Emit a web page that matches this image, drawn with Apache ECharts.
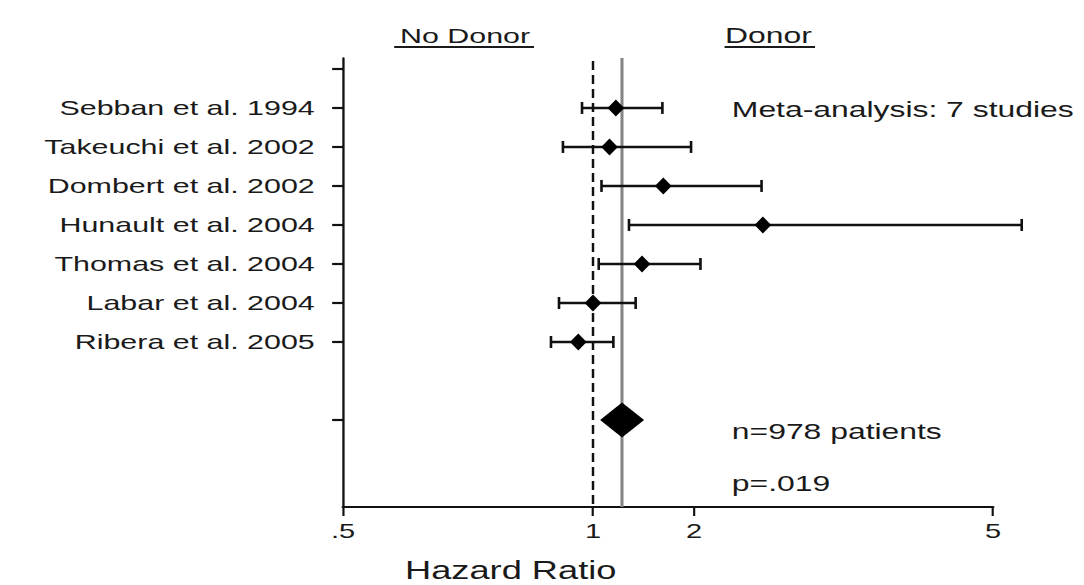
<!DOCTYPE html>
<html>
<head>
<meta charset="utf-8">
<script src="https://cdn.jsdelivr.net/npm/echarts@6/dist/echarts.min.js"></script>
<style>
html, body { margin: 0; padding: 0; background: #fff; overflow: hidden; }
#wrap { width: 1084px; height: 585px; overflow: hidden; }
#chart { width: 748px; height: 585px; transform: scaleX(1.449198); transform-origin: 0 0; }
</style>
</head>
<body>
<div id="wrap"><div id="chart"></div></div>
<script>
// ---------------- data ----------------
const studies = [
  'Sebban et al. 1994',
  'Takeuchi et al. 2002',
  'Dombert et al. 2002',
  'Hunault et al. 2004',
  'Thomas et al. 2004',
  'Labar et al. 2004',
  'Ribera et al. 2005'
];
const hazardRatio = [1.17, 1.12, 1.62, 2.47, 1.40, 1.00, 0.96];
const ciLower     = [0.97, 0.92, 1.06, 1.28, 1.04, 0.91, 0.89];
const ciUpper     = [1.61, 1.96, 2.46, 5.46, 2.04, 1.34, 1.15];
const pooledHR    = [1.22];
const pooledLower = [1.05];
const pooledUpper = [1.42];
const xTickValues = [0.5, 1, 2, 5];
const xTickLabels = ['.5', '1', '2', '5'];
const referenceHR = [1];

// ---------------- axis layout (tick placement along the axis, as drawn) ----------------
const tickPlace = [0, 0.3846, 0.54, 1];
function toAxis(v) {
  let i = 0;
  while (i < xTickValues.length - 2 && v > xTickValues[i + 1]) i++;
  const a = xTickValues[i], b = xTickValues[i + 1];
  const t = Math.log(v / a) / Math.log(b / a);
  return tickPlace[i] + t * (tickPlace[i + 1] - tickPlace[i]);
}
const studyRows = studies.map((s, i) => i + 1);
const pooledRow = studies.length + 2;
const Y_MIN = -0.28, Y_MAX = 11.23;

const FONT = '"Liberation Sans", Arial, Helvetica, sans-serif';
const TXT = '#1a1a1a';

const chart = echarts.init(document.getElementById('chart'), null, { renderer: 'svg' });

const option = {
  animation: false,
  backgroundColor: '#fff',
  grid: { left: 236.7, right: 62.8, top: 58, bottom: 78 },
  xAxis: {
    type: 'value', min: 0, max: 1, position: 'bottom',
    axisLine: { show: true, onZero: false, lineStyle: { color: '#111', width: 2.2 } },
    axisTick: { show: true, length: 9, lineStyle: { color: '#111', width: 1.5 }, customValues: tickPlace },
    axisLabel: {
      show: true, customValues: tickPlace, margin: 14,
      fontSize: 20, fontFamily: FONT, color: TXT,
      formatter: function (v) {
        let best = 0;
        tickPlace.forEach((p, i) => { if (Math.abs(p - v) < Math.abs(tickPlace[best] - v)) best = i; });
        return xTickLabels[best];
      }
    },
    splitLine: { show: false }
  },
  yAxis: {
    type: 'value', inverse: true, min: Y_MIN, max: Y_MAX, position: 'left',
    axisLine: { show: true, onZero: false, lineStyle: { color: '#111', width: 1.6 } },
    axisTick: { show: true, length: 7.5, lineStyle: { color: '#111', width: 2.2 }, customValues: [0].concat(studyRows, [pooledRow]) },
    axisLabel: {
      show: true, customValues: studyRows, margin: 19.5,
      fontSize: 21, fontFamily: FONT, color: TXT,
      formatter: function (v) { return studies[Math.round(v) - 1] || ''; }
    },
    splitLine: { show: false }
  },
  series: [
    {
      type: 'custom', name: 'reference', z: 1, silent: true,
      data: [[toAxis(referenceHR[0]), 0], [toAxis(pooledHR[0]), 1]],
      encode: { x: 0 },
      renderItem: function (params, api) {
        const x = api.value(0);
        const kind = api.value(1);
        const top = api.coord([x, Y_MIN]);
        const bot = api.coord([x, Y_MAX]);
        return {
          type: 'line',
          shape: { x1: top[0], y1: kind === 0 ? top[1] + 3 : top[1], x2: bot[0], y2: bot[1] },
          style: kind === 0
            ? { stroke: '#111', lineWidth: 1.7, lineDash: [9, 5] }
            : { stroke: '#858585', lineWidth: 2.1 }
        };
      }
    },
    {
      type: 'custom', name: 'CI', z: 3, silent: true, clip: false,
      data: studies.map((s, i) => [toAxis(ciLower[i]), toAxis(ciUpper[i]), studyRows[i]]),
      encode: { x: [0, 1], y: 2 },
      renderItem: function (params, api) {
        const y = api.value(2);
        const p1 = api.coord([api.value(0), y]);
        const p2 = api.coord([api.value(1), y]);
        const h = 6;
        const cap = { stroke: '#111', lineWidth: 1.8 };
        return {
          type: 'group',
          children: [
            { type: 'line', shape: { x1: p1[0], y1: p1[1], x2: p2[0], y2: p2[1] }, style: { stroke: '#111', lineWidth: 2.5 } },
            { type: 'line', shape: { x1: p1[0], y1: p1[1] - h, x2: p1[0], y2: p1[1] + h }, style: cap },
            { type: 'line', shape: { x1: p2[0], y1: p2[1] - h, x2: p2[0], y2: p2[1] + h }, style: cap }
          ]
        };
      }
    },
    {
      type: 'scatter', name: 'HR', z: 4, silent: true,
      symbol: 'diamond', symbolSize: [11.5, 17],
      itemStyle: { color: '#000', opacity: 1 },
      data: studies.map((s, i) => [toAxis(hazardRatio[i]), studyRows[i]])
    },
    {
      type: 'custom', name: 'Pooled', z: 4, silent: true, clip: false,
      data: pooledHR.map((v, i) => [toAxis(pooledLower[i]), toAxis(v), toAxis(pooledUpper[i]), pooledRow]),
      encode: { x: [0, 1, 2], y: 3 },
      renderItem: function (params, api) {
        const y = api.value(3);
        const l = api.coord([api.value(0), y]);
        const c = api.coord([api.value(1), y]);
        const r = api.coord([api.value(2), y]);
        const h = 17.5;
        return {
          type: 'polygon',
          shape: { points: [[l[0], l[1]], [c[0], c[1] - h], [r[0], r[1]], [c[0], c[1] + h]] },
          style: { fill: '#000' }
        };
      }
    }
  ],
  graphic: [
    { type: 'text', x: 276, y: 35.5, style: { text: 'No Donor', font: '21px ' + FONT, fill: TXT, verticalAlign: 'middle' } },
    { type: 'line', shape: { x1: 272, y1: 47, x2: 368.5, y2: 47 }, style: { stroke: TXT, lineWidth: 2.2 } },
    { type: 'text', x: 500.3, y: 35.5, style: { text: 'Donor', font: '22px ' + FONT, fill: TXT, verticalAlign: 'middle' } },
    { type: 'line', shape: { x1: 500, y1: 47, x2: 562.4, y2: 47 }, style: { stroke: TXT, lineWidth: 2.2 } },
    { type: 'text', x: 505, y: 109, style: { text: 'Meta-analysis: 7 studies', font: '22px ' + FONT, fill: TXT, verticalAlign: 'middle' } },
    { type: 'text', x: 505, y: 431, style: { text: 'n=978 patients', font: '22px ' + FONT, fill: TXT, verticalAlign: 'middle' } },
    { type: 'text', x: 505, y: 483, style: { text: 'p=.019', font: '22px ' + FONT, fill: TXT, verticalAlign: 'middle' } },
    { type: 'text', x: 279.5, y: 571, style: { text: 'Hazard Ratio', font: '25px ' + FONT, fill: TXT, verticalAlign: 'middle' } }
  ]
};
chart.setOption(option);
</script>
</body>
</html>
